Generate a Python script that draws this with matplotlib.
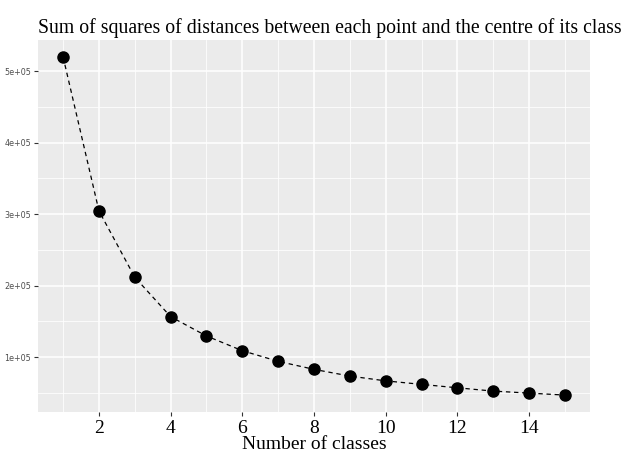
import matplotlib
matplotlib.use("Agg")
import matplotlib.pyplot as plt
from matplotlib.ticker import FuncFormatter

# number of classes (k) and within-class sum of squares
n_classes = list(range(1, 16))
wss = [520000, 304600, 211800, 156600, 129600, 109000, 94100, 82900,
       73500, 66800, 61900, 57100, 52500, 49700, 46900]

x_ticks = [2, 4, 6, 8, 10, 12, 14]
y_ticks = [100000, 200000, 300000, 400000, 500000]


def sci_label(v, pos):
    return f"{int(round(v / 1e5))}e+05"


fig = plt.figure(figsize=(6.25, 4.54), dpi=100)
ax = fig.add_axes([38 / 625, 42 / 454, 552 / 625, 372 / 454])
ax.set_facecolor("#ebebeb")

# ggplot-like grid
ax.set_xticks(x_ticks)
ax.set_yticks(y_ticks)
ax.set_xticks([1, 3, 5, 7, 9, 11, 13, 15], minor=True)
ax.set_yticks([50000, 150000, 250000, 350000, 450000], minor=True)
ax.grid(True, which="major", color="white", linewidth=1.1)
ax.grid(True, which="minor", color="white", linewidth=0.55)
ax.set_axisbelow(True)
for s in ax.spines.values():
    s.set_visible(False)

ax.plot(n_classes, wss, linestyle=(0, (3.5, 3)), color="black", linewidth=0.9)
ax.plot(n_classes, wss, "o", color="black", markersize=8)

ax.set_xlim(0.3, 15.7)
ax.set_ylim(23245, 543655)

ax.yaxis.set_major_formatter(FuncFormatter(sci_label))
ax.tick_params(axis="both", which="major", length=3, width=0.8, color="#333333")
ax.tick_params(axis="both", which="minor", length=0)
ax.tick_params(axis="y", labelsize=5.8, labelcolor="#4d4d4d", pad=2)
ax.tick_params(axis="x", labelsize=14, pad=3)
for lab in ax.get_xticklabels():
    lab.set_family("Liberation Serif")

ax.set_xlabel("Number of classes", family="Liberation Serif", fontsize=14, labelpad=-1)
fig.text(38 / 625, 1 - 28 / 454, "Sum of squares of distances between each point and the centre of its class",
         family="Liberation Serif", fontsize=14.2, ha="left", va="center")

fig.savefig("out.png", dpi=100)
